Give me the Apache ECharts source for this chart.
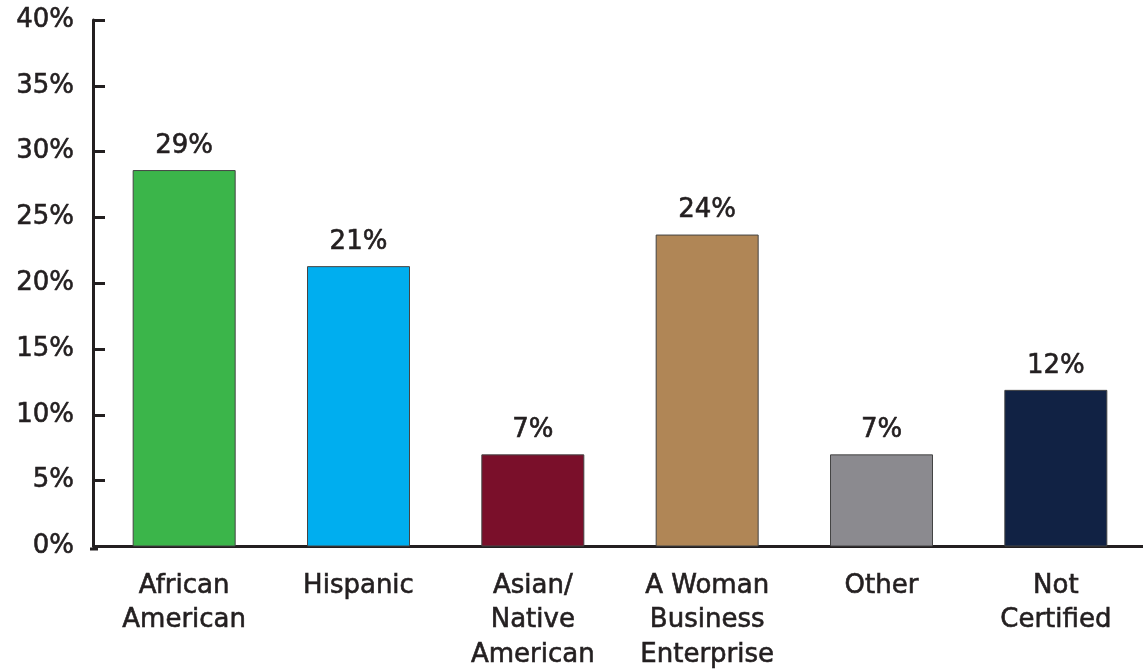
<!DOCTYPE html>
<html>
<head>
<meta charset="utf-8">
<title>Certification Status</title>
<script src="https://cdn.jsdelivr.net/npm/echarts@6/dist/echarts.min.js"></script>
<style>
  html, body { margin: 0; padding: 0; background: #ffffff; }
  #chart { width: 1143px; height: 672px; }
</style>
</head>
<body>
<div id="chart"></div>
<script>
// Share of firms by certification category (percent)
const categories = ['African\nAmerican', 'Hispanic', 'Asian/\nNative\nAmerican', 'A Woman\nBusiness\nEnterprise', 'Other', 'Not\nCertified'];
const values = [28.6, 21.3, 7.0, 23.7, 7.0, 11.9];
const barColors = ['#3bb54a', '#00aeef', '#7a0f2a', '#b08656', '#8b8a8f', '#112244'];
const yTicks = [0, 5, 10, 15, 20, 25, 30, 35, 40];

const ink = '#231f20';
const font = '"DejaVu Sans", "Open Sans", sans-serif';
// shared text look: slightly heavier strokes
const textStyle = {
  color: ink, fontFamily: font, fontSize: 26,
  textBorderColor: ink, textBorderWidth: 0.6
};

// plot area layout
const gridLeft = 97, gridTop = 20, gridBottom = 123, yAxisOffset = 4;
const H = 672;

const chart = echarts.init(document.getElementById('chart'), null, { renderer: 'canvas' });

chart.setOption({
  animation: false,
  backgroundColor: '#ffffff',
  grid: { left: gridLeft, right: -8, top: gridTop, bottom: gridBottom, containLabel: false },
  // short piece of baseline joining the offset y axis to the x axis
  graphic: [{
    type: 'line',
    shape: { x1: gridLeft - yAxisOffset - 3, y1: H - gridBottom, x2: gridLeft + 1, y2: H - gridBottom },
    style: { stroke: ink, lineWidth: 3 },
    z: 10
  }],
  xAxis: {
    type: 'category',
    data: categories,
    axisLine: { show: true, lineStyle: { color: ink, width: 3 } },
    axisTick: { show: false },
    axisLabel: Object.assign({}, textStyle, {
      lineHeight: 34.5, margin: 22, interval: 0, align: 'center'
    })
  },
  yAxis: {
    type: 'value',
    min: yTicks[0],
    max: yTicks[yTicks.length - 1],
    interval: 5,
    offset: yAxisOffset,
    axisLine: { show: true, lineStyle: { color: ink, width: 3 } },
    axisTick: { show: true, inside: true, length: 12, lineStyle: { color: ink, width: 3 } },
    splitLine: { show: false },
    axisLabel: Object.assign({}, textStyle, {
      margin: 19,
      formatter: v => v + '%'
    })
  },
  series: [{
    type: 'bar',
    barWidth: 103,
    data: values.map((v, i) => ({
      value: v,
      itemStyle: { color: barColors[i], borderColor: '#444444', borderWidth: 1 }
    })),
    label: Object.assign({}, textStyle, {
      show: true,
      position: 'top',
      distance: 11,
      formatter: p => Math.round(p.value) + '%'
    })
  }]
});
</script>
</body>
</html>
